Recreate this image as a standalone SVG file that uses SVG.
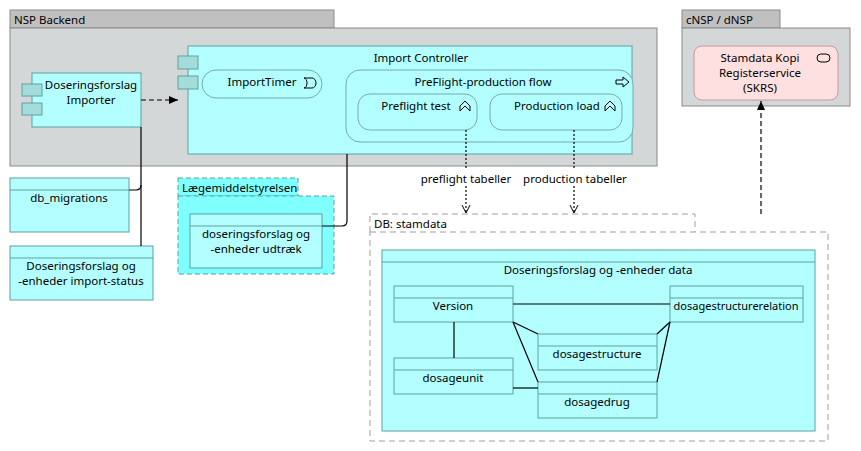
<svg xmlns="http://www.w3.org/2000/svg" width="861" height="451" viewBox="0 0 861 451">
<style>
text{font-family:"Noto Sans","Liberation Sans",sans-serif;font-size:11.5px;fill:#000}
.c{text-anchor:middle}
.grp{fill:#d3d7d7;stroke:#8a8a8a}
.tab{fill:#c0c0c0;stroke:#8a8a8a}
.box{fill:#b3ffff;stroke:#5fa0a0}
.sub{fill:#b3ffff;stroke:#78aaaa}
.port{fill:#a4dcdc;stroke:#5fa0a0}
.dg{fill:none;stroke:#a0a0a0;stroke-dasharray:6,4}
.ln{fill:none;stroke:#000;stroke-width:1.2}
.hd{stroke:#5fa0a0}
</style>
<defs>
<marker id="a" markerWidth="10" markerHeight="10" refX="9" refY="5" orient="auto" markerUnits="userSpaceOnUse"><path d="M0,1 L9,5 L0,9 z" fill="#000"/></marker>
<marker id="o" markerWidth="10" markerHeight="10" refX="8" refY="5" orient="auto" markerUnits="userSpaceOnUse"><path d="M0,1 L8,5 L0,9" fill="none" stroke="#000"/></marker>
</defs>
<g id="nsp-backend">
<rect class="tab" x="10" y="10" width="324" height="18"/>
<rect class="grp" x="10" y="28" width="647" height="138"/>
<text x="14" y="24">NSP Backend</text>
</g>
<g id="importer">
<rect class="box" x="32" y="73" width="109" height="54"/>
<rect class="port" x="22" y="84" width="20" height="12"/>
<rect class="port" x="22" y="103" width="20" height="12"/>
<text class="c" x="91" y="89">Doseringsforslag</text>
<text class="c" x="91" y="104">Importer</text>
</g>
<g id="import-controller">
<rect class="box" x="188" y="46" width="444" height="108"/>
<rect class="port" x="178" y="56" width="20" height="13"/>
<rect class="port" x="178" y="76" width="20" height="13"/>
<text class="c" x="421" y="62">Import Controller</text>
</g>
<g id="importtimer">
<rect class="sub" x="202" y="70" width="120" height="28" rx="14"/>
<text class="c" x="262" y="86">ImportTimer</text>
<path d="M304,78 h8 a4,5 0 0 1 0,10 h-8 a3,5 0 0 0 0,-10 z" fill="none" stroke="#000"/>
</g>
<g id="preflight-flow">
<rect class="sub" x="346" y="70" width="287" height="72" rx="14"/>
<text class="c" x="483" y="86">PreFlight-production flow</text>
<path d="M616,80 h7 v-3 l6,5 -6,5 v-3 h-7 z" fill="none" stroke="#000"/>
</g>
<g id="preflight-test">
<rect class="sub" x="358" y="94" width="119" height="36" rx="12"/>
<text class="c" x="416" y="110">Preflight test</text>
<path d="M460,111 v-5 l5,-5 5,5 v5 l-5,-5 z" fill="none" stroke="#000"/>
</g>
<g id="production-load">
<rect class="sub" x="490" y="94" width="132" height="36" rx="12"/>
<text class="c" x="557" y="110">Production load</text>
<path d="M605,111 v-5 l5,-5 5,5 v5 l-5,-5 z" fill="none" stroke="#000"/>
</g>
<g id="cnsp">
<rect class="tab" x="682" y="10" width="98" height="18"/>
<rect class="grp" x="682" y="28" width="168" height="78"/>
<text x="686" y="24">cNSP / dNSP</text>
</g>
<g id="stamdata-kopi">
<rect x="694" y="46" width="144" height="54" rx="8" fill="#ffe0e0" stroke="#c89a9a"/>
<rect x="817" y="54" width="13" height="8" rx="4" fill="none" stroke="#000"/>
<text class="c" x="760" y="62">Stamdata Kopi</text>
<text class="c" x="760" y="77">Registerservice</text>
<text class="c" x="760" y="92">(SKRS)</text>
</g>
<g id="db-migrations">
<rect class="box" x="10" y="178" width="119" height="54"/>
<line class="hd" x1="10" y1="190" x2="129" y2="190"/>
<text class="c" x="69" y="202">db_migrations</text>
</g>
<g id="import-status">
<rect class="box" x="10" y="246" width="143" height="54"/>
<line class="hd" x1="10" y1="258" x2="153" y2="258"/>
<text class="c" x="81" y="270">Doseringsforslag og</text>
<text class="c" x="81" y="285">-enheder import-status</text>
</g>
<g id="laegemiddelstyrelsen">
<rect x="178" y="178" width="120" height="18" fill="#80ffff" stroke="#5fa0a0" stroke-dasharray="5,3"/>
<rect x="178" y="196" width="156" height="78" fill="#80ffff" stroke="#5fa0a0" stroke-dasharray="5,3"/>
<text x="182" y="192">Lægemiddelstyrelsen</text>
</g>
<g id="udtraek">
<rect class="box" x="190" y="214" width="132" height="54"/>
<line class="hd" x1="190" y1="226" x2="322" y2="226"/>
<text class="c" x="256" y="238">doseringsforslag og</text>
<text class="c" x="256" y="253">-enheder udtræk</text>
</g>
<g id="db-stamdata">
<path class="dg" d="M370,232 V214 H695 V232"/>
<rect class="dg" x="370" y="232" width="458" height="209"/>
<text x="374" y="228">DB: stamdata</text>
</g>
<g id="data">
<rect class="box" x="382" y="250" width="433" height="181"/>
<line class="hd" x1="382" y1="262" x2="815" y2="262"/>
<text class="c" x="598" y="274">Doseringsforslag og -enheder data</text>
</g>
<g id="version"><rect class="box" x="394" y="286" width="119" height="36"/><line class="hd" x1="394" y1="298" x2="513" y2="298"/><text class="c" x="453" y="310">Version</text></g>
<g id="dosagestructurerelation"><rect class="box" x="670" y="286" width="133" height="36"/><line class="hd" x1="670" y1="298" x2="803" y2="298"/><text class="c" x="736" y="310" textLength="125" lengthAdjust="spacingAndGlyphs">dosagestructurerelation</text></g>
<g id="dosagestructure"><rect class="box" x="538" y="334" width="119" height="36"/><line class="hd" x1="538" y1="346" x2="657" y2="346"/><text class="c" x="597" y="358">dosagestructure</text></g>
<g id="dosageunit"><rect class="box" x="394" y="358" width="119" height="36"/><line class="hd" x1="394" y1="370" x2="513" y2="370"/><text class="c" x="453" y="382">dosageunit</text></g>
<g id="dosagedrug"><rect class="box" x="538" y="382" width="119" height="36"/><line class="hd" x1="538" y1="394" x2="657" y2="394"/><text class="c" x="597" y="406">dosagedrug</text></g>
<g id="connectors">
<line class="ln" x1="141" y1="100" x2="178" y2="100" stroke-dasharray="5,3" marker-end="url(#a)"/>
<path class="ln" d="M141,127 V185 Q141,190 136,190 H129"/>
<line class="ln" x1="141" y1="185" x2="141" y2="246"/>
<path class="ln" d="M347,154 V221 Q347,226 342,226 H322"/>
<line class="ln" x1="466" y1="130" x2="466" y2="213" stroke-dasharray="2,2" marker-end="url(#o)"/>
<line class="ln" x1="574" y1="130" x2="574" y2="213" stroke-dasharray="2,2" marker-end="url(#o)"/>
<line class="ln" x1="761" y1="214" x2="761" y2="101" stroke-dasharray="5,3" marker-end="url(#a)"/>
<line class="ln" x1="513" y1="304" x2="670" y2="304"/>
<line class="ln" x1="454" y1="322" x2="454" y2="358"/>
<line class="ln" x1="513" y1="388" x2="538" y2="388"/>
<line class="ln" x1="513" y1="322" x2="538" y2="334"/>
<line class="ln" x1="513" y1="322" x2="538" y2="382"/>
<line class="ln" x1="670" y1="322" x2="657" y2="334"/>
<line class="ln" x1="670" y1="322" x2="657" y2="382"/>
<rect x="420" y="170" width="95" height="16" fill="#fff"/>
<rect x="522" y="170" width="106" height="16" fill="#fff"/>
<text class="c" x="466" y="183">preflight tabeller</text>
<text class="c" x="575" y="183">production tabeller</text>
</g>
</svg>
